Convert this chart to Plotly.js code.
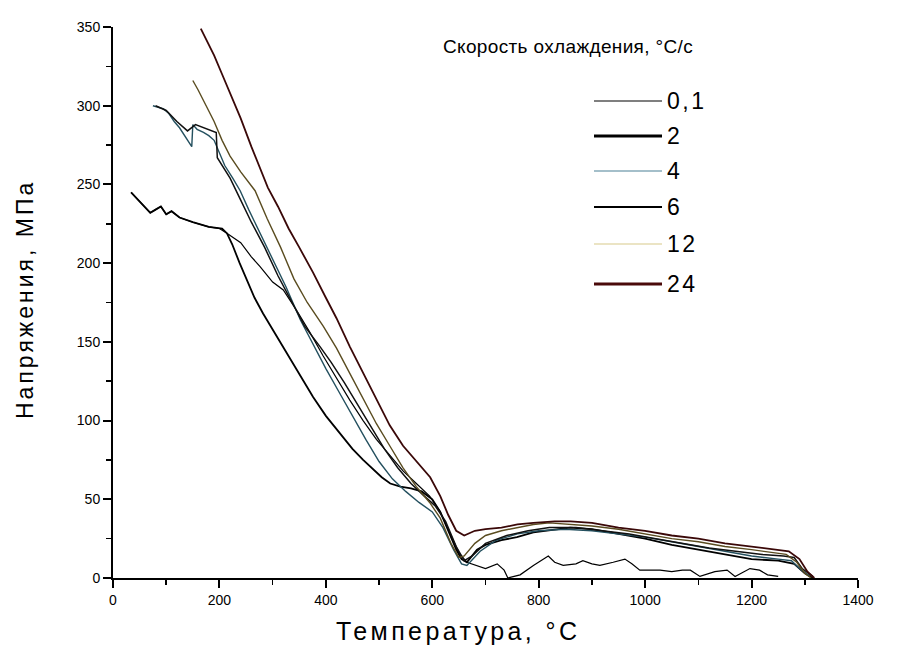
<!DOCTYPE html>
<html>
<head>
<meta charset="utf-8">
<script src="https://cdn.plot.ly/plotly-3.0.1.min.js"></script>
<style>body{margin:0;background:#fff}#chart{width:901px;height:657px}</style>
</head>
<body>
<div id="chart"></div>
<script>
// Series labels (cooling rate, °C/s)
const seriesNames = ['0,1', '2', '4', '6', '12', '24'];

// 0,1 °C/s
const t01 = [34,45,60,70,80,90,100,110,125,150,180,200,214,240,260,276,300,320,345,370,395,420,445,470,495,520,545,570,595,615,635,650,665,684,700,722,735,742,765,790,812,818,830,846,870,883,900,915,940,962,975,990,1010,1028,1050,1070,1085,1103,1131,1154,1169,1197,1215,1230,1250];
const s01 = [245,241,236,232,234,236,231,233,229,226,223,222,219,213,204,198,188,183,170,156,141,127,113,100,88,78,68,60,52,42,27,16,10,8,6,9,5,0,2,8,13,14,10,8,9,11,9,8,10,12,9,5,5,5,4,5,5,1,4,5,1,6,5,2,1];

// 2 °C/s
const t2 = [34,45,60,70,80,90,100,110,125,150,180,205,214,224,238,252,266,282,300,320,345,376,400,427,450,470,489,505,521,540,560,580,600,615,630,645,655,665,684,700,730,759,790,830,859,900,950,1000,1050,1100,1150,1200,1250,1280,1300,1315];
const s2 = [245,241,236,232,234,236,231,233,229,226,223,222,219,212,200,189,178,168,158,147,133,115,103,92,82,75,69,64,60,58,57,55,50,42,30,18,12,10,18,21,24,26,29,31,32,31,28,25,21,18,15,12,11,9,3,0];

// 4 °C/s
const t4 = [75,85,95,105,115,125,135,145,148,150,158,170,180,190,200,210,225,239,255,275,300,325,352,376,400,425,450,475,500,525,550,575,600,620,640,655,665,690,720,760,800,850,900,950,1000,1050,1100,1150,1200,1250,1275,1290,1310];
const s4 = [300,299,298,295,290,286,281,276,274,288,285,283,281,278,270,262,254,246,234,220,203,185,164,148,133,118,103,88,74,63,55,48,42,32,18,9,8,17,24,28,30,31,30,28,26,23,20,17,14,12,11,6,1];

// 6 °C/s
const t6 = [80,100,120,140,155,170,185,194,196,205,220,240,260,285,310,335,360,389,410,435,460,485,510,535,560,585,605,625,645,660,675,700,740,780,820,870,920,970,1020,1070,1120,1170,1220,1260,1280,1295,1315];
const s6 = [300,297,290,284,288,286,284,283,267,262,254,240,226,210,192,176,160,147,137,124,110,96,82,70,60,52,46,36,20,11,14,22,27,30,32,32,30,28,25,22,19,17,15,14,13,6,1];

// 12 °C/s
const t12 = [150,160,175,190,205,220,240,267,290,315,340,365,395,420,445,470,495,520,545,570,595,615,635,650,660,680,700,730,760,790,820,860,900,950,1000,1050,1100,1150,1200,1240,1265,1285,1300,1312];
const s12 = [316,310,300,290,278,268,258,246,228,210,190,175,160,146,130,114,98,84,70,58,48,38,22,13,14,22,27,30,32,34,35,34,33,31,28,25,23,20,18,16,15,10,3,0];

// 24 °C/s
const t24 = [165,175,190,205,220,240,260,275,291,310,330,350,376,400,420,445,470,495,520,545,570,596,615,630,645,660,680,700,730,760,790,830,860,900,950,1000,1050,1100,1150,1200,1240,1270,1290,1305,1318];
const s24 = [349,342,332,320,308,292,274,262,248,236,222,210,194,178,165,147,130,113,97,84,74,64,52,40,30,27,30,31,32,34,35,36,36,35,32,30,27,25,22,20,18,17,12,4,0];

const xTicks = [0,200,400,600,800,1000,1200,1400];
const yTicks = [0,50,100,150,200,250,300,350];

const xs = [t01, t2, t4, t6, t12, t24];
const ys = [s01, s2, s4, s6, s12, s24];
const colors = ['#000000', '#000000', '#24505f', '#111111', '#5a4c20', '#3a0808'];
const widths = [1.2, 1.8, 1.4, 1.5, 1.4, 1.8];

const traces = seriesNames.map((n, i) => ({
  type: 'scatter', mode: 'lines', name: n,
  x: xs[i], y: ys[i],
  line: {color: colors[i], width: widths[i]},
  showlegend: false
}));

const FONT = 'Liberation Sans, Arial, sans-serif';
const sp = (txt, ls) => '<span style="letter-spacing:' + ls + 'px">' + txt + '</span>';

// manual legend (line samples + labels) in paper coordinates
const L = 113, R = 858, T = 27, B = 578;
const px = v => (v - L) / (R - L);
const py = v => (B - v) / (B - T);
const legendRows = [101, 136, 171, 207, 244, 284];
const legendW = [1.2, 3, 1.2, 2, 1.2, 3];
const legendC = ['#000000', '#000000', '#4b8095', '#000000', '#d8c98a', '#4a0a0a'];
const shapes = [];
const annotations = [];
seriesNames.forEach((n, i) => {
  shapes.push({type: 'line', xref: 'paper', yref: 'paper',
    x0: px(594), x1: px(662), y0: py(legendRows[i]), y1: py(legendRows[i]),
    line: {color: legendC[i], width: legendW[i]}});
  annotations.push({xref: 'paper', yref: 'paper', x: px(665), y: py(legendRows[i]),
    xanchor: 'left', yanchor: 'middle', text: sp(n, 2.5), showarrow: false,
    font: {family: FONT, size: 23, color: '#000'}});
});
annotations.push({xref: 'paper', yref: 'paper', x: px(441), y: py(47),
  xanchor: 'left', yanchor: 'middle', text: sp('Скорость охлаждения, °С/с', 0.35), showarrow: false,
  font: {family: FONT, size: 19, color: '#000'}});
// axis titles
annotations.push({xref: 'paper', yref: 'paper', x: px(458), y: py(631),
  xanchor: 'center', yanchor: 'middle', text: sp('Температура, °С', 3.4), showarrow: false,
  font: {family: FONT, size: 25, color: '#000'}});
annotations.push({xref: 'paper', yref: 'paper', x: px(25), y: py(300),
  xanchor: 'center', yanchor: 'middle', textangle: -90, text: sp('Напряжения, МПа', 3), showarrow: false,
  font: {family: FONT, size: 23, color: '#000'}});

const layout = {
  width: 901, height: 657,
  margin: {l: L, r: 901 - R, t: T, b: 657 - B},
  paper_bgcolor: '#fff', plot_bgcolor: '#fff',
  font: {family: FONT, color: '#000'},
  showlegend: false,
  xaxis: {
    range: [0, 1400], tickvals: xTicks, ticktext: xTicks.map(String),
    showgrid: false, zeroline: false, showline: true, linecolor: '#000', linewidth: 2,
    ticks: 'outside', ticklen: 8, tickwidth: 2, tickcolor: '#000',
    minor: {tickvals: [100,300,500,700,900,1100,1300], ticks: 'outside', ticklen: 5, tickwidth: 1.5, tickcolor: '#000'},
    tickfont: {family: FONT, size: 14, color: '#000'}
  },
  yaxis: {
    range: [0, 350], tickvals: yTicks, ticktext: yTicks.map(String),
    showgrid: false, zeroline: false, showline: true, linecolor: '#000', linewidth: 2,
    ticks: 'outside', ticklen: 8, tickwidth: 2, tickcolor: '#000',
    minor: {tickvals: [25,75,125,175,225,275,325], ticks: 'outside', ticklen: 5, tickwidth: 1.5, tickcolor: '#000'},
    tickfont: {family: FONT, size: 14, color: '#000'}
  },
  shapes: shapes,
  annotations: annotations
};

Plotly.newPlot('chart', traces, layout, {displayModeBar: false, staticPlot: true});
</script>
</body>
</html>
